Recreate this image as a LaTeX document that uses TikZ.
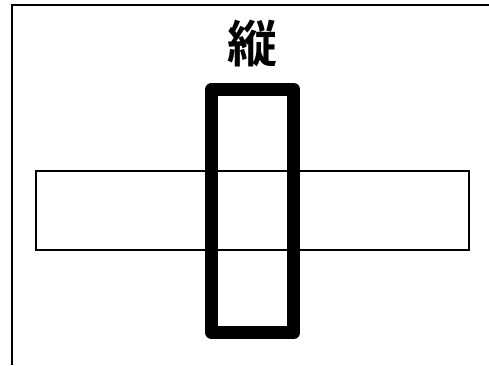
\documentclass[tikz,border=0pt]{standalone}
\usepackage{fontspec}
\newfontfamily\cjk{Noto Sans CJK JP}[BoldFont={Noto Sans CJK JP Bold}]
\begin{document}
\begin{tikzpicture}[x=1pt,y=-1pt,
  frameline/.style={line width=1.8pt},
  thinbox/.style={draw,line width=2pt},
  thickbox/.style={draw,line width=13pt,line join=round}]
\useasboundingbox (0,0) rectangle (489,365);
\coordinate (fa) at (12,365);
\coordinate (fb) at (12,5);
\coordinate (fc) at (489,5);
\draw[frameline] (fa) -- (fb) -- (fc);
\draw[thinbox] (36,170.5) rectangle (469,250);
\draw[thickbox] (211.7,89.3) rectangle (293.7,332.7);
\node[font=\cjk\bfseries\fontsize{50}{50}\selectfont, inner sep=0pt] (title) at (252.5,43.7) {縦};
\end{tikzpicture}
\end{document}
